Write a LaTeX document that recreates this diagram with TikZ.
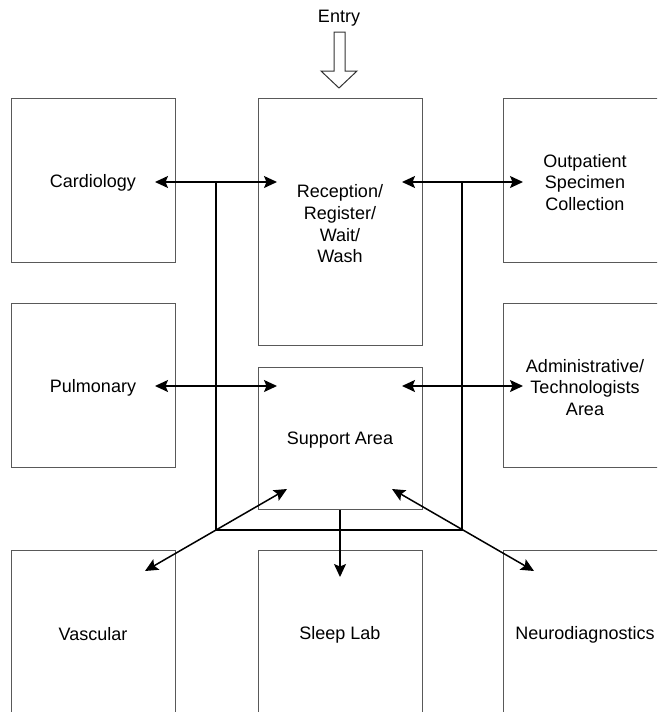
\documentclass[tikz,border=0pt]{standalone}
\usepackage{fontspec}
\setmainfont{Liberation Sans}
\usetikzlibrary{arrows.meta}
\begin{document}
\begin{tikzpicture}[x=1pt,y=-1pt,
  txt/.style={font=\fontsize{18}{21.7}\selectfont,align=center,inner sep=0pt},
  room/.style={draw=black!65,line width=1pt,minimum width=164pt,inner sep=0pt},
  rlabel/.style={label={[txt,yshift=-2.5pt]center:#1}},
  link/.style={line width=1.5pt,draw=black},
  tip/.style={-{Stealth[length=13pt,width=12pt,inset=2.5pt]}},
  ltip/.style={{Stealth[length=13pt,width=12pt,inset=2.5pt]}-{Stealth[length=13pt,width=12pt,inset=2.5pt]}}]
\useasboundingbox (0,0) rectangle (657,712);
\clip (0,0) rectangle (657,712);
% rooms
\node[room,minimum height=164pt,rlabel={Cardiology}] (cardio) at (93,180) {};
\node[room,minimum height=164pt,rlabel={Pulmonary}] (pulm) at (93,385) {};
\node[room,minimum height=164pt,rlabel={Vascular}] (vasc) at (93,632) {};
\node[room,minimum height=247pt,rlabel={Reception/\\Register/\\Wait/\\Wash}] (recep) at (340,221.5) {};
\node[room,minimum height=142pt,rlabel={Support Area}] (support) at (340,438) {};
\node[room,minimum height=164pt,rlabel={Sleep Lab}] (sleep) at (340,632) {};
\node[room,minimum height=164pt,rlabel={Outpatient\\Specimen\\Collection}] (outp) at (585,180) {};
\node[room,minimum height=164pt,rlabel={Administrative/\\Technologists\\Area}] (admin) at (585,385) {};
\node[room,minimum height=164pt,rlabel={Neurodiagnostics}] (neuro) at (585,632) {};
% entry
\node[txt] (entry) at (339,18) {Entry};
\draw[line width=1pt,black!80] (334,32) -- (345,32) -- (345,71) -- (357,71) -- (339,88)
  -- (321,71) -- (334,71) -- cycle;
% coordinates
\coordinate (c1) at (155,182); \coordinate (c2) at (277,182); \coordinate (jl) at (216,182);
\coordinate (o1) at (402,182); \coordinate (o2) at (523,182); \coordinate (jr) at (462,182);
\coordinate (p1) at (155,386); \coordinate (p2) at (277,386);
\coordinate (a1) at (402,386); \coordinate (a2) at (523,386);
\coordinate (bl) at (216,530); \coordinate (br) at (462,530);
\coordinate (sl) at (340,577);
\coordinate (v1) at (145,571); \coordinate (v2) at (287,489);
\coordinate (n1) at (534,571); \coordinate (n2) at (392,489);
% connectors
\draw[link,ltip] (c1) -- (c2);
\draw[link,ltip] (o1) -- (o2);
\draw[link,ltip] (p1) -- (p2);
\draw[link,ltip] (a1) -- (a2);
\draw[link] (jl) -- (bl) -- (br) -- (jr);
\draw[link,tip] (support.south) -- (sl);
\draw[link,ltip] (v1) -- (v2);
\draw[link,ltip] (n1) -- (n2);
\end{tikzpicture}
\end{document}
